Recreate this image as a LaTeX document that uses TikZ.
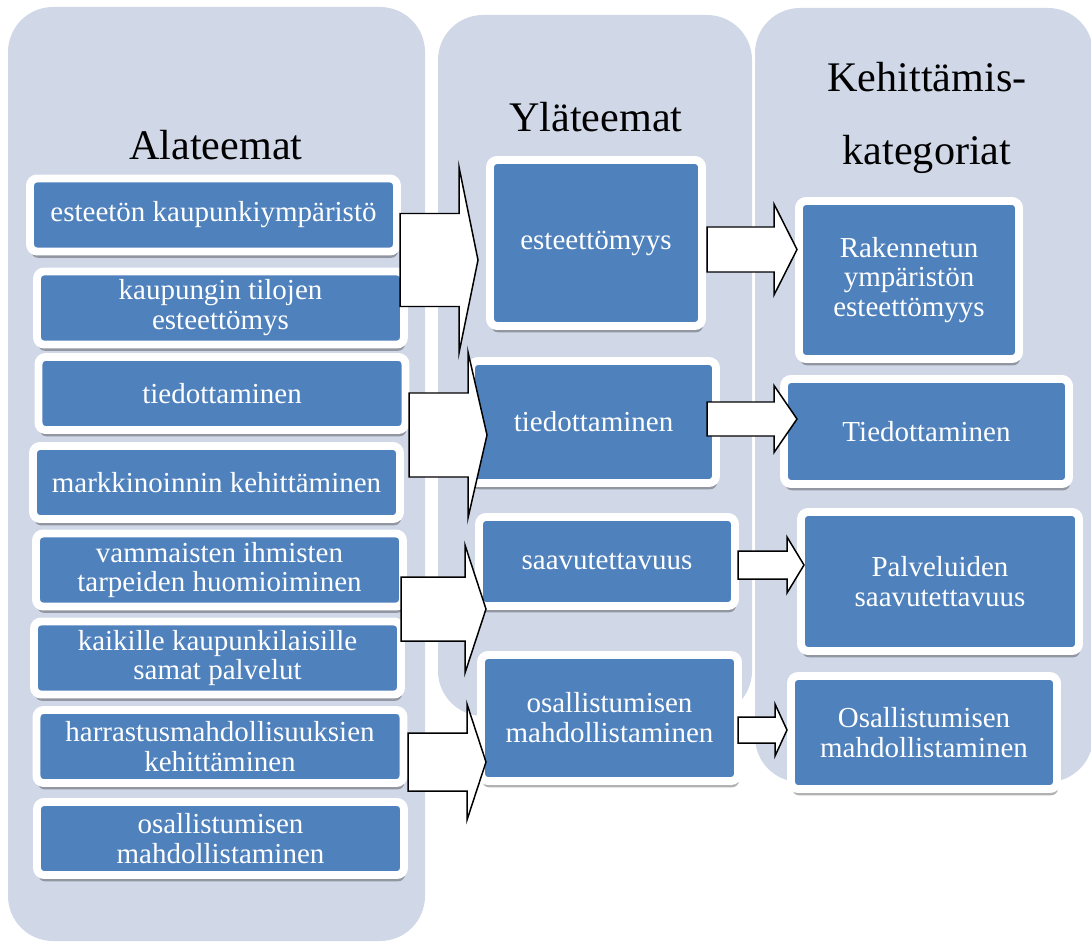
\documentclass[tikz,border=0pt]{standalone}
\usepackage{fontspec}
\setmainfont{Liberation Serif}
\usetikzlibrary{shadows}

\definecolor{panelgray}{HTML}{D0D8E8}
\definecolor{boxblue}{HTML}{4F81BD}

\tikzset{
  panel/.style={fill=panelgray, rounded corners=0.9cm},
  title/.style={font=\fontsize{24}{26}\selectfont, anchor=base},
  themebox/.style={draw=white, line width=4.5pt, fill=boxblue, rounded corners=0.14cm,
    text=white, align=center, inner sep=1pt, font=\fontsize{16.5}{17}\selectfont,
    drop shadow={shadow xshift=0.6pt, shadow yshift=-3.6pt, opacity=0.3, fill=black}},
  lbox/.style={themebox, minimum width=7.34cm, minimum height=1.46cm},
  blockarr/.style={draw=black, fill=white, line width=0.85pt, line join=miter}
}

% start, shaft length, shaft half height, head half height, head length
\newcommand{\blockarrow}[5]{%
  \draw[blockarr] (#1) ++(0,-#3) -- ++(#2,0) -- ++(0,#3-#4) -- ++(#5,#4)
    -- ++(-#5,#4) -- ++(0,#3-#4) -- ++(-#2,0) -- cycle;}

\begin{document}
\begin{tikzpicture}[x=0.02cm, y=-0.02cm]
  \clip (0,0) rectangle (1091,942);

  % columns
  \fill[panel] (8,7) rectangle (425,941);
  \fill[panel] (438,15) rectangle (752,716);
  \fill[panel] (755,8) rectangle (1093,782);

  % column titles
  \node[title] (alat) at (216,160) {Alateemat};
  \node[title] (ylat) at (596,132) {Yläteemat};
  \node[title] (kehi) at (927,92) {Kehittämis-};
  \node[title] (kate) at (927,165) {kategoriat};

  % alateemat
  \node[lbox] (l1) at (213.5,215) {esteetön kaupunkiympäristö};
  \node[lbox] (l2) at (220.5,308) {kaupungin tilojen\\esteettömys};
  \node[lbox] (l3) at (222,393.5) {tiedottaminen};
  \node[lbox] (l4) at (216.5,482.5) {markkinoinnin kehittäminen};
  \node[lbox] (l5) at (219.5,570) {vammaisten ihmisten\\tarpeiden huomioiminen};
  \node[lbox] (l6) at (217.5,658) {kaikille kaupunkilaisille\\samat palvelut};
  \node[lbox] (l7) at (220,746.5) {harrastusmahdollisuuksien\\kehittäminen};
  \node[lbox] (l8) at (220.5,838.5) {osallistumisen\\mahdollistaminen};

  % yläteemat
  \node[themebox, minimum width=4.24cm, minimum height=3.32cm] (m1) at (596,243) {esteettömyys};
  \node[themebox, minimum width=4.9cm, minimum height=2.44cm] (m2) at (593.5,422) {tiedottaminen};
  \node[themebox, minimum width=5.12cm, minimum height=1.78cm] (m3) at (607,561.5) {saavutettavuus};
  \node[themebox, minimum width=5.14cm, minimum height=2.52cm] (m4) at (609.5,718) {osallistumisen\\mahdollistaminen};

  % kehittämiskategoriat
  \node[themebox, minimum width=4.4cm, minimum height=3.16cm] (r1) at (909,280) {Rakennetun\\ympäristön\\esteettömyys};
  \node[themebox, minimum width=5.7cm, minimum height=2.1cm] (r2) at (926.5,431.5) {Tiedottaminen};
  \node[themebox, minimum width=5.56cm, minimum height=2.78cm] (r3) at (940,581.5) {Palveluiden\\saavutettavuus};
  \node[themebox, minimum width=5.32cm, minimum height=2.26cm] (r4) at (924,732.5) {Osallistumisen\\mahdollistaminen};

  % big arrows: alateemat -> yläteemat
  \coordinate (a1) at (400,260);
  \coordinate (a2) at (409,435);
  \coordinate (a3) at (401,609);
  \coordinate (a4) at (408,762);
  \blockarrow{a1}{59}{46.5}{93}{19}
  \blockarrow{a2}{59}{42}{83}{19}
  \blockarrow{a3}{64}{32}{64}{21}
  \blockarrow{a4}{59}{29}{58}{19}

  % small arrows: yläteemat -> kategoriat
  \coordinate (s1) at (707,249.5);
  \coordinate (s2) at (707,419);
  \coordinate (s3) at (738,565);
  \coordinate (s4) at (738,730);
  \blockarrow{s1}{67}{22.5}{45.5}{23}
  \blockarrow{s2}{67}{17}{33.5}{23}
  \blockarrow{s3}{49}{14}{28}{17}
  \blockarrow{s4}{37}{13}{26}{12}
\end{tikzpicture}
\end{document}
